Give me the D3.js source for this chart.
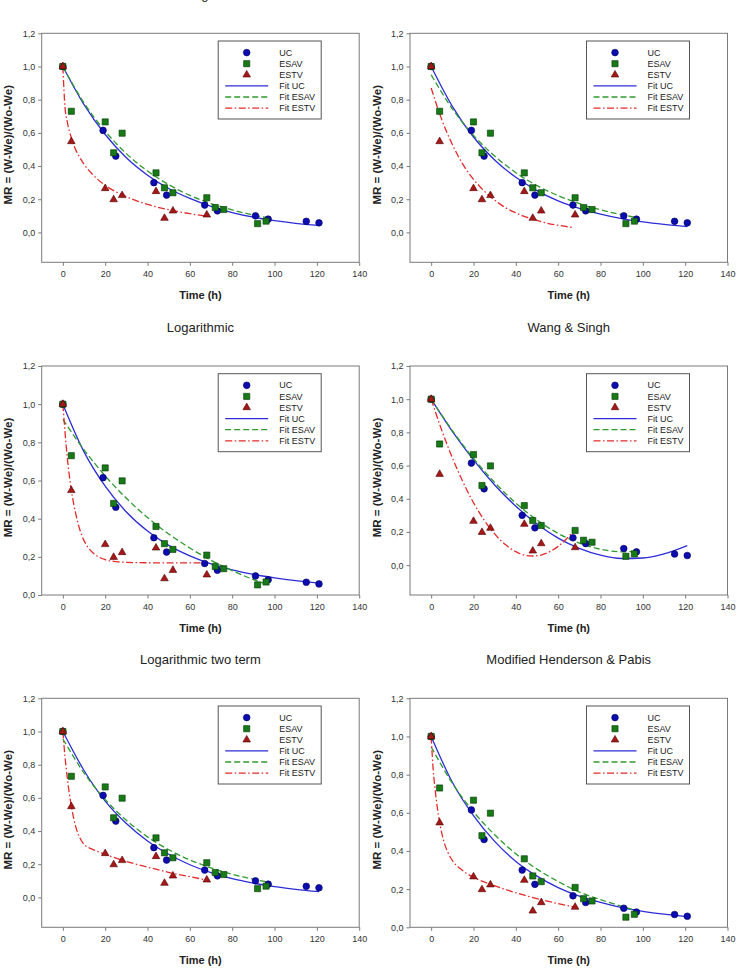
<html>
<head>
    <script src="https://d3js.org/d3.v7.min.js"></script>
    <title>Drying curves</title>
</head>
<style>
    body { margin: 0; background: white; font-family: "Liberation Sans", Arial, sans-serif; }
    .tick line { stroke: #7a7a7a; }
    .tick text { fill: #333; font-size: 9px; font-family: "Liberation Sans", Arial, sans-serif; }
</style>
<body>
<div id="chart"></div>
<script>
    // measured points (time in h, moisture ratio)
    const ucTime = [0, 19, 25, 43, 49, 67, 73, 91, 97, 115, 121];
    const ucMR = [1.0, 0.615, 0.46, 0.30, 0.225, 0.165, 0.13, 0.10, 0.08, 0.067, 0.058];
    const esavTime = [0, 4, 20, 24, 28, 44, 48, 52, 68, 72, 76, 92, 96];
    const esavMR = [1.0, 0.73, 0.666, 0.48, 0.598, 0.359, 0.269, 0.239, 0.209, 0.15, 0.138, 0.053, 0.068];
    const estvTime = [0, 4, 20, 24, 28, 44, 48, 52, 68];
    const estvMR = [1.0, 0.548, 0.265, 0.198, 0.223, 0.247, 0.086, 0.13, 0.106];

    // fitted curves, [time, MR]
    const pageFitUC = [[0,1],[10,0.77],[20,0.59],[30,0.45],[40,0.345],[50,0.265],[60,0.205],[70,0.157],[80,0.12],[90,0.092],[100,0.071],[110,0.055],[121,0.042]];
    const pageFitESAV = [[0,1],[10,0.78],[20,0.61],[30,0.475],[40,0.37],[50,0.288],[60,0.223],[70,0.174],[80,0.136],[90,0.105],[97,0.088]];
    const pageFitESTV = [[0,1],[1,0.755],[2,0.672],[4,0.57],[6,0.5],[8,0.452],[10,0.411],[14,0.35],[20,0.284],[25,0.245],[30,0.215],[40,0.169],[50,0.137],[60,0.113],[68,0.098]];

    const hpFitUC = [[0,1],[10,0.76],[20,0.575],[30,0.437],[40,0.332],[50,0.252],[60,0.19],[70,0.145],[80,0.11],[90,0.083],[100,0.063],[110,0.048],[121,0.035]];
    const hpFitESAV = [[0,0.95],[10,0.745],[20,0.585],[30,0.46],[40,0.36],[50,0.282],[60,0.222],[70,0.174],[80,0.136],[90,0.107],[97,0.09]];
    const hpFitESTV = [[0,0.87],[5,0.68],[10,0.53],[15,0.41],[20,0.32],[25,0.25],[30,0.195],[35,0.15],[40,0.118],[45,0.092],[50,0.072],[55,0.055],[60,0.043],[67,0.03]];

    const logFitUC = [[0,1],[10,0.75],[20,0.57],[30,0.435],[40,0.335],[50,0.26],[60,0.205],[70,0.163],[80,0.132],[90,0.108],[100,0.09],[110,0.075],[121,0.062]];
    const logFitESAV = [[0,0.92],[10,0.761],[20,0.624],[30,0.507],[40,0.406],[50,0.32],[60,0.246],[70,0.182],[80,0.128],[90,0.081],[96,0.057]];
    const logFitESTV = [[0,1],[2,0.73],[4,0.55],[6,0.43],[8,0.343],[10,0.285],[12,0.248],[15,0.214],[20,0.185],[25,0.175],[30,0.171],[40,0.169],[50,0.168],[68,0.168]];

    const wsFitUC = [[0,1],[10,0.806],[20,0.634],[30,0.483],[40,0.355],[50,0.248],[60,0.163],[70,0.101],[80,0.06],[90,0.04],[100,0.043],[110,0.068],[121,0.118]];
    const wsFitESAV = [[0,1],[10,0.811],[20,0.643],[30,0.498],[40,0.374],[50,0.272],[60,0.191],[70,0.133],[80,0.096],[90,0.08],[96,0.082]];
    const wsFitESTV = [[0,1],[5,0.813],[10,0.647],[15,0.502],[20,0.376],[25,0.272],[30,0.188],[35,0.124],[40,0.081],[45,0.058],[48,0.055],[52,0.061],[56,0.081],[60,0.113],[64,0.159],[67,0.203]];

    const ltFitUC = [[0,1],[10,0.765],[20,0.58],[30,0.445],[40,0.34],[50,0.26],[60,0.197],[70,0.15],[80,0.113],[90,0.086],[100,0.065],[110,0.049],[121,0.035]];
    const ltFitESAV = [[0,0.955],[10,0.75],[20,0.59],[30,0.465],[40,0.365],[50,0.287],[60,0.226],[70,0.178],[80,0.14],[90,0.11],[97,0.092]];
    const ltFitESTV = [[0,1],[1,0.85],[2,0.73],[3,0.63],[4,0.55],[6,0.43],[8,0.36],[10,0.32],[14,0.29],[20,0.26],[28,0.225],[36,0.195],[44,0.17],[52,0.145],[60,0.125],[68,0.105]];

    const mhpFitUC = [[0,1],[10,0.76],[20,0.585],[30,0.45],[40,0.345],[50,0.268],[60,0.208],[70,0.163],[80,0.13],[90,0.103],[100,0.084],[110,0.069],[121,0.056]];
    const mhpFitESAV = [[0,0.945],[10,0.755],[20,0.605],[30,0.485],[40,0.385],[50,0.305],[60,0.24],[70,0.185],[80,0.145],[90,0.11],[97,0.088]];
    const mhpFitESTV = [[0,1],[1,0.82],[2,0.71],[3,0.62],[4,0.55],[6,0.45],[8,0.39],[10,0.35],[14,0.305],[20,0.262],[28,0.225],[36,0.195],[44,0.168],[52,0.145],[60,0.124],[68,0.105]];

    const panelTitles = ["Page", "Henderson & Pabis", "Logarithmic", "Wang & Singh", "Logarithmic two term", "Modified Henderson & Pabis"];
    const panelYMin = [-0.18, -0.18, 0, -0.18, -0.18, 0];
    const panelFits = [
        [pageFitUC, pageFitESAV, pageFitESTV],
        [hpFitUC, hpFitESAV, hpFitESTV],
        [logFitUC, logFitESAV, logFitESTV],
        [wsFitUC, wsFitESAV, wsFitESTV],
        [ltFitUC, ltFitESAV, ltFitESTV],
        [mhpFitUC, mhpFitESAV, mhpFitESTV]
    ];
    const xTicks = [0, 20, 40, 60, 80, 100, 120, 140];
    const yTicks = [0, 0.2, 0.4, 0.6, 0.8, 1.0, 1.2];
    const legendLabels = ["UC", "ESAV", "ESTV", "Fit UC", "Fit ESAV", "Fit ESTV"];

    // chart dimensions
    const W = 739, H = 978;
    const colX = [41.7, 410];
    const rowY = [33.3, 366, 698.3];
    const pw = 317.5, ph = 229;

    const ptColors = {fill: ["#0c0cb0", "#177a17", "#a51818"], stroke: ["#00005a", "#053805", "#520000"]};
    const lineColors = ["#2d2dd8", "#2f9a2f", "#e52a2a"];
    const lineDash = [null, "6,3", "7,2.5,1.5,2.5"];

    const comma = d3.formatLocale({decimal: ",", thousands: ".", grouping: [3], currency: ["", ""]}).format(".1f");

    const svg = d3.select("#chart").append("svg")
        .attr("width", W)
        .attr("height", H)
        .style("display", "block");

    const series = [
        d3.zip(ucTime, ucMR),
        d3.zip(esavTime, esavMR),
        d3.zip(estvTime, estvMR)
    ];

    const symbols = [d3.symbolCircle, d3.symbolSquare, d3.symbolTriangle];
    const symSize = [35, 38, 25];

    panelTitles.forEach(function(title, i) {
        const ox = colX[i % 2], oy = rowY[Math.floor(i / 2)];
        const g = svg.append("g").attr("transform", `translate(${ox}, ${oy})`);

        const x = d3.scaleLinear().domain([-10, 140]).range([0, pw]);
        const y = d3.scaleLinear().domain([panelYMin[i], 1.2]).range([ph, 0]);

        // top-row titles sit above the page edge, as in the original crop
        g.append("text")
            .attr("x", pw / 2)
            .attr("y", -34.5)
            .attr("text-anchor", "middle")
            .attr("font-size", "13px")
            .attr("fill", "#222")
            .text(title);

        g.append("g")
            .attr("transform", `translate(0, ${ph})`)
            .call(d3.axisBottom(x).tickValues(xTicks).tickSize(3.5).tickSizeOuter(0).tickPadding(5))
            .call(a => a.select(".domain").remove());

        g.append("g")
            .call(d3.axisLeft(y).tickValues(yTicks).tickFormat(comma).tickSize(3.5).tickSizeOuter(0).tickPadding(3))
            .call(a => a.select(".domain").remove());

        g.append("rect")
            .attr("width", pw)
            .attr("height", ph)
            .attr("fill", "none")
            .attr("stroke", "#7a7a7a")
            .attr("stroke-width", 1);

        g.append("text")
            .attr("x", pw / 2)
            .attr("y", ph + 37)
            .attr("text-anchor", "middle")
            .attr("font-size", "11px")
            .attr("font-weight", "bold")
            .attr("fill", "#222")
            .text("Time (h)");

        g.append("text")
            .attr("transform", `translate(-33.4, ${ph / 2 - 3}) rotate(-90)`)
            .attr("text-anchor", "middle")
            .attr("dominant-baseline", "central")
            .attr("font-size", "11.5px")
            .attr("font-weight", "bold")
            .attr("fill", "#222")
            .text("MR = (W-We)/(Wo-We)");

        // fitted lines
        const makeLine = d3.line()
            .x(d => x(d[0]))
            .y(d => y(d[1]))
            .curve(d3.curveMonotoneX);

        panelFits[i].forEach(function(fit, k) {
            g.append("path")
                .attr("d", makeLine(fit))
                .attr("fill", "none")
                .attr("stroke", lineColors[k])
                .attr("stroke-width", 1.3)
                .attr("stroke-dasharray", lineDash[k]);
        });

        // data points
        series.forEach(function(s, k) {
            g.selectAll(".pt" + k)
                .data(s)
                .join("path")
                .attr("class", "pt" + k)
                .attr("transform", d => `translate(${x(d[0])}, ${y(d[1])})`)
                .attr("d", d3.symbol().type(symbols[k]).size(symSize[k]))
                .attr("fill", ptColors.fill[k])
                .attr("stroke", ptColors.stroke[k])
                .attr("stroke-width", 0.6);
        });

        // legend
        const lg = g.append("g").attr("transform", "translate(176.5, 7.7)");
        lg.append("rect")
            .attr("width", 103)
            .attr("height", 78)
            .attr("fill", "white")
            .attr("stroke", "#555")
            .attr("stroke-width", 1);

        legendLabels.forEach(function(label, k) {
            const ly = 11.6 + k * 11.1;
            if (k < 3) {
                lg.append("path")
                    .attr("transform", `translate(28.5, ${ly})`)
                    .attr("d", d3.symbol().type(symbols[k]).size(symSize[k]))
                    .attr("fill", ptColors.fill[k])
                    .attr("stroke", ptColors.stroke[k])
                    .attr("stroke-width", 0.6);
            } else {
                lg.append("line")
                    .attr("x1", 7).attr("x2", 50)
                    .attr("y1", ly).attr("y2", ly)
                    .attr("stroke", lineColors[k - 3])
                    .attr("stroke-width", 1.3)
                    .attr("stroke-dasharray", lineDash[k - 3]);
            }
            lg.append("text")
                .attr("x", 61)
                .attr("y", ly)
                .attr("dy", "0.35em")
                .attr("font-size", "9px")
                .attr("fill", "#222")
                .text(label);
        });
    });
</script>
</body>
</html>
